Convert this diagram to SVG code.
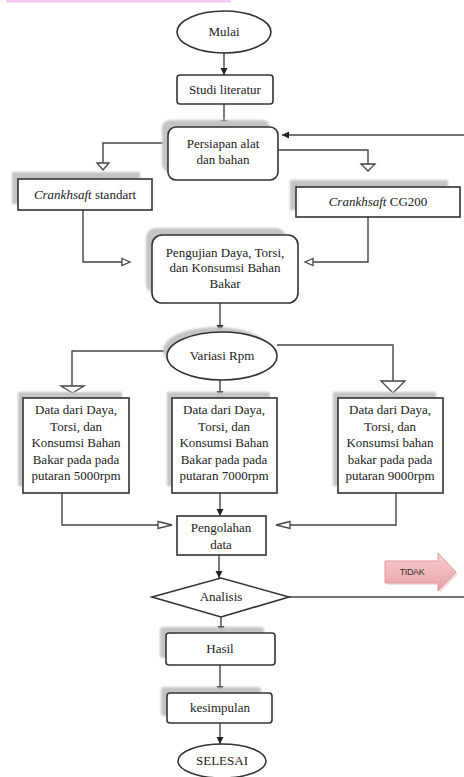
<svg xmlns="http://www.w3.org/2000/svg" width="464" height="777" viewBox="0 0 464 777" font-family="'Liberation Serif', 'Times New Roman', serif">
<defs>
<style>
text{font-family:'Liberation Serif','Times New Roman',serif;font-size:13px;fill:#222;text-anchor:middle}
.box{fill:#fff;stroke:#333;stroke-width:1.6}
.sh{fill:#c4c4c4;filter:url(#blur)}
.ln{fill:none;stroke:#444;stroke-width:1.4}
.oh{fill:#fff;stroke:#444;stroke-width:1.3}
text.tidak{font-family:'Liberation Sans',Arial,sans-serif;font-size:9px;fill:#333;letter-spacing:-0.4px}
</style>
<filter id="blur" x="-10%" y="-10%" width="120%" height="120%"><feGaussianBlur stdDeviation="1.2"/></filter>
<linearGradient id="pink" x1="0" y1="0" x2="0" y2="1">
<stop offset="0" stop-color="#f9d0d0"/><stop offset="1" stop-color="#e8a0a4"/>
</linearGradient>
<marker id="ah" markerWidth="8" markerHeight="8" refX="7" refY="4" orient="auto" markerUnits="userSpaceOnUse">
<path d="M0,0.5 L7,4 L0,7.5 Z" fill="#222"/>
</marker>
</defs>
<rect x="0" y="0" width="464" height="777" fill="#fff"/>
<rect x="6" y="0" width="225" height="2.5" fill="#f6c8f0"/>

<g id="connectors">
<line class="ln" x1="224" y1="53" x2="224" y2="75" marker-end="url(#ah)"/>
<line class="ln" x1="224" y1="104" x2="224" y2="127" marker-end="url(#ah)"/>
<line class="ln" x1="464" y1="135" x2="282" y2="135" marker-end="url(#ah)"/>
<polyline class="ln" points="168,143 103,143 103,163"/>
<path class="oh" d="M97,163 L109,163 L103,170 Z"/>
<polyline class="ln" points="278,150 368,150 368,164"/>
<path class="oh" d="M361,164 L375,164 L368,171 Z"/>
<polyline class="ln" points="83,210 83,262 122,262"/>
<path class="oh" d="M122,258.5 L130,262 L122,265.5 Z"/>
<polyline class="ln" points="368,217 368,262 313,262"/>
<path class="oh" d="M313,258.5 L305,262 L313,265.5 Z"/>
<line class="ln" x1="220" y1="303" x2="220" y2="332" marker-end="url(#ah)"/>
<polyline class="ln" points="167,351 72,351 72,386"/>
<path class="oh" d="M61,386 L84,386 L72.5,393 Z"/>
<polyline class="ln" points="277,345 393,345 393,381"/>
<path class="oh" d="M381,381 L405,381 L393,393 Z"/>
<line class="ln" x1="220" y1="380" x2="220" y2="398" marker-end="url(#ah)"/>
<polyline class="ln" points="62,493 62,525 158,525"/>
<path class="oh" d="M158,521.5 L172,525 L158,528.5 Z"/>
<polyline class="ln" points="396,493 396,525 290,525"/>
<path class="oh" d="M290,521.5 L276,525 L290,528.5 Z"/>
<line class="ln" x1="220" y1="493" x2="220" y2="516" marker-end="url(#ah)"/>
<line class="ln" x1="219" y1="555" x2="219" y2="578" marker-end="url(#ah)"/>
<line class="ln" x1="289" y1="597" x2="464" y2="597"/>
<line class="ln" x1="221" y1="617" x2="221" y2="633" marker-end="url(#ah)"/>
<line class="ln" x1="220" y1="665" x2="220" y2="693" marker-end="url(#ah)"/>
<line class="ln" x1="220" y1="723" x2="220" y2="744" marker-end="url(#ah)"/>
</g>

<g id="mulai">
<ellipse class="box" cx="224" cy="32" rx="47" ry="21"/>
<text x="224" y="36">Mulai</text>
</g>
<g id="studi">
<rect class="box" x="177" y="75" width="96" height="29" rx="3"/>
<text x="225" y="94">Studi literatur</text>
</g>
<g id="persiapan">
<rect class="sh" x="162" y="120" width="108" height="52" rx="8"/>
<rect class="box" x="168" y="127" width="110" height="53" rx="8"/>
<text x="223" y="148">Persiapan alat</text>
<text x="223" y="164">dan bahan</text>
</g>
<g id="crank-std">
<rect class="sh" x="12" y="172" width="128" height="32"/>
<rect class="box" x="18" y="179" width="134" height="31"/>
<text x="85" y="199"><tspan font-style="italic">Crankhsaft</tspan> standart</text>
</g>
<g id="crank-cg200">
<rect class="sh" x="290" y="180" width="158" height="30"/>
<rect class="box" x="296" y="187" width="164" height="30"/>
<text x="378" y="206"><tspan font-style="italic">Crankhsaft</tspan> CG200</text>
</g>
<g id="pengujian">
<rect class="sh" x="146" y="228" width="140" height="66" rx="10"/>
<rect class="box" x="152" y="235" width="146" height="68" rx="10"/>
<text x="225" y="257">Pengujian Daya, Torsi,</text>
<text x="225" y="272">dan Konsumsi Bahan</text>
<text x="225" y="288">Bakar</text>
</g>
<g id="variasi">
<ellipse class="sh" cx="216" cy="350" rx="53" ry="23"/>
<ellipse class="box" cx="222" cy="356" rx="55" ry="24"/>
<text x="222" y="360">Variasi Rpm</text>
</g>
<g id="data5000">
<rect class="sh" x="18" y="392" width="104" height="94"/>
<rect class="box" x="23" y="398" width="106" height="95"/>
<text x="76" y="414">Data dari Daya,</text>
<text x="76" y="431">Torsi, dan</text>
<text x="76" y="447">Konsumsi Bahan</text>
<text x="76" y="464">Bakar pada pada</text>
<text x="76" y="480">putaran 5000rpm</text>
</g>
<g id="data7000">
<rect class="sh" x="167" y="392" width="103" height="94"/>
<rect class="box" x="172" y="398" width="105" height="95"/>
<text x="224" y="414">Data dari Daya,</text>
<text x="224" y="431">Torsi, dan</text>
<text x="224" y="447">Konsumsi Bahan</text>
<text x="224" y="464">Bakar pada pada</text>
<text x="224" y="480">putaran 7000rpm</text>
</g>
<g id="data9000">
<rect class="sh" x="333" y="392" width="103" height="94"/>
<rect class="box" x="338" y="398" width="105" height="95"/>
<text x="390" y="414">Data dari Daya,</text>
<text x="390" y="431">Torsi, dan</text>
<text x="390" y="447">Konsumsi bahan</text>
<text x="390" y="464">bakar pada pada</text>
<text x="390" y="480">putaran 9000rpm</text>
</g>
<g id="pengolahan">
<rect class="box" x="177" y="516" width="89" height="39"/>
<text x="221" y="532">Pengolahan</text>
<text x="221" y="549">data</text>
</g>
<g id="tidak">
<path d="M387,563 L440,563 L440,555 L458,574 L440,593 L440,585 L387,585 Z" fill="#e7cccc" opacity="0.6"/>
<path d="M385,561 L438,561 L438,553 L456,572 L438,591 L438,583 L385,583 Z" fill="url(#pink)" stroke="#e39a9e" stroke-width="1"/>
<text class="tidak" x="412" y="575">TIDAK</text>
</g>
<g id="analisis">
<path class="box" d="M152,597 L221,578 L289,597 L221,617 Z"/>
<text x="221" y="601">Analisis</text>
</g>
<g id="hasil">
<rect class="sh" x="160" y="627" width="104" height="31" rx="3"/>
<rect class="box" x="166" y="633" width="109" height="32" rx="3"/>
<text x="220" y="653">Hasil</text>
</g>
<g id="kesimpulan">
<rect class="sh" x="161" y="687" width="100" height="29" rx="3"/>
<rect class="box" x="167" y="693" width="105" height="30" rx="3"/>
<text x="220" y="712">kesimpulan</text>
</g>
<g id="selesai">
<ellipse class="box" cx="222" cy="761" rx="44" ry="17"/>
<text x="222" y="765">SELESAI</text>
</g>
</svg>
